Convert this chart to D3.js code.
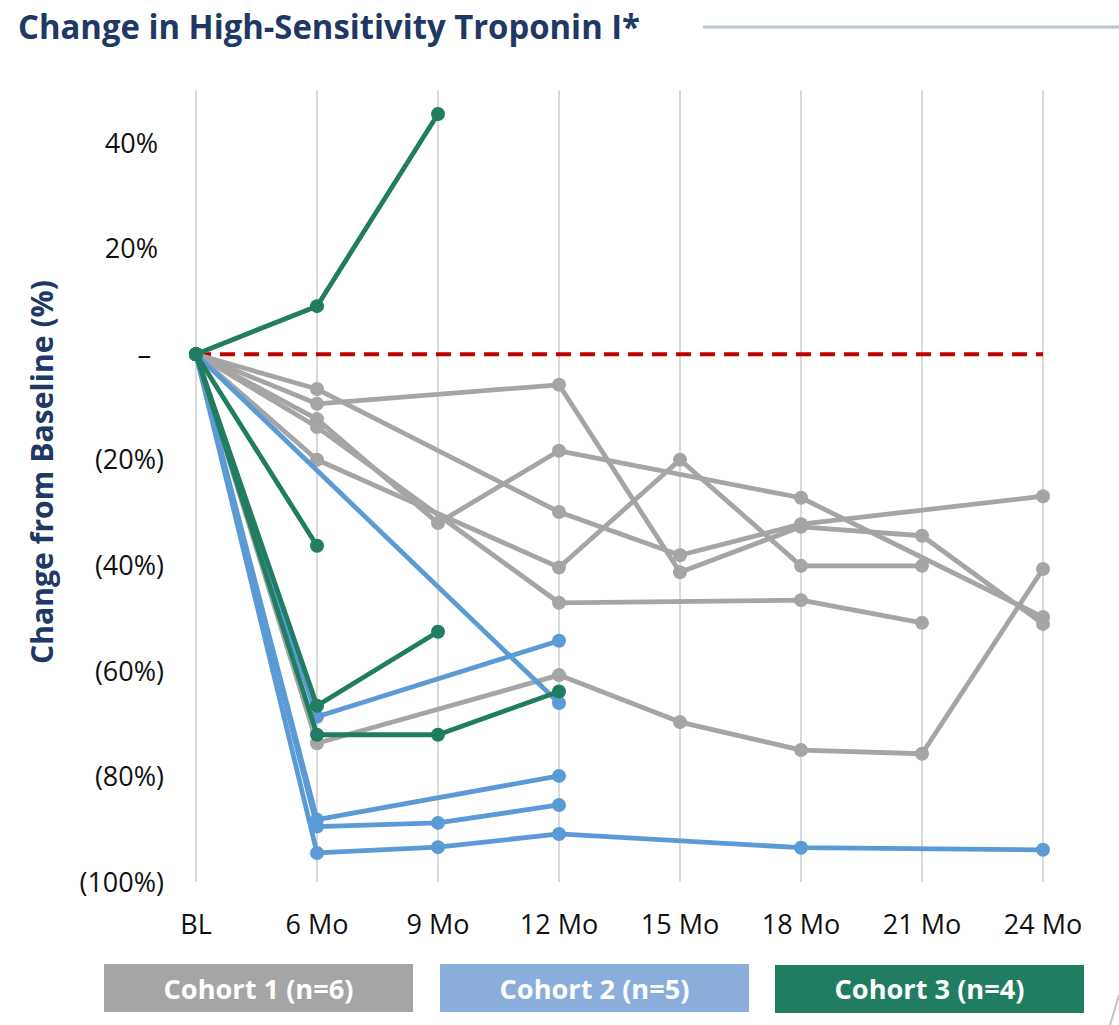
<!DOCTYPE html>
<html><head><meta charset="utf-8">
<script src="https://cdn.jsdelivr.net/npm/d3@7"></script>
<style>
html,body{margin:0;padding:0;background:#fff;}
svg{display:block;font-family:"Open Sans",sans-serif;}
</style></head>
<body><svg id="c" width="1119" height="1025"></svg>
<script>
const months = ["BL","6 Mo","9 Mo","12 Mo","15 Mo","18 Mo","21 Mo","24 Mo"];
const yTicks = [40,20,0,-20,-40,-60,-80,-100];
const yTickLabels = ["40%","20%","–","(20%)","(40%)","(60%)","(80%)","(100%)"];
// values per patient, aligned to months (null = no measurement)
const cohort1 = [
  [0,-9.4,null,-5.8,-41.3,-32.7,-34.4,-51.1],
  [0,-6.6,null,-29.9,-38.1,-32.2,null,-26.9],
  [0,-12.3,-32.0,-18.3,null,-27.2,null,-49.8],
  [0,-20.0,null,-40.4,-20.0,-40.1,-40.1,null],
  [0,-13.8,null,-47.1,null,-46.6,-50.9,null],
  [0,-73.7,null,-60.8,-69.7,-75.0,-75.7,-40.7]
];
const cohort2 = [
  [0,-68.7,null,-54.3,null,null,null,null],
  [0,null,null,-66.1,null,null,null,null],
  [0,-88.2,null,-79.9,null,null,null,null],
  [0,-89.5,-88.8,-85.4,null,null,null,null],
  [0,-94.5,-93.4,-90.9,null,-93.5,null,-93.9]
];
const cohort3 = [
  [0,9.1,45.5,null,null,null,null,null],
  [0,-36.3,null,null,null,null,null,null],
  [0,-66.6,-52.6,null,null,null,null,null],
  [0,-72.1,-72.1,-63.9,null,null,null,null]
];
const legendLabels = ["Cohort 1 (n=6)","Cohort 2 (n=5)","Cohort 3 (n=4)"];

const svg = d3.select("#c");
const x = d3.scalePoint().domain(months).range([196,1043]);
const y = d3.scaleLinear().domain([-100,50]).range([882,90.3]);

// title
svg.append("text").attr("x",18).attr("y",39)
  .attr("font-size",34).attr("font-weight",700).attr("fill","#203864")
  .attr("textLength",622).attr("lengthAdjust","spacingAndGlyphs")
  .text("Change in High-Sensitivity Troponin I*");
svg.append("line").attr("x1",703).attr("x2",1119).attr("y1",27).attr("y2",27)
  .attr("stroke","#B8C5CD").attr("stroke-width",3);
// small decorative line bottom right
svg.append("line").attr("x1",1119).attr("y1",995).attr("x2",1110).attr("y2",1025)
  .attr("stroke","#B8C5CD").attr("stroke-width",2);

// vertical gridlines
svg.append("g").selectAll("line").data(months).join("line")
  .attr("x1",d=>x(d)).attr("x2",d=>x(d)).attr("y1",y(50)).attr("y2",y(-100))
  .attr("stroke","#D9D9D9").attr("stroke-width",2);

// y tick labels
svg.append("g").selectAll("text").data(yTicks).join("text")
  .attr("x",d=>d>=0 ? (d===0?151:158) : 164)
  .attr("y",d=>y(d)).attr("dy","0.36em")
  .attr("text-anchor","end").attr("font-size",27).attr("fill","#111")
  .text((d,i)=>yTickLabels[i]);

// x tick labels
svg.append("g").selectAll("text").data(months).join("text")
  .attr("x",d=>x(d)).attr("y",934).attr("text-anchor","middle")
  .attr("font-size",27).attr("fill","#111").text(d=>d);

// y axis title
svg.append("text").attr("transform","translate(53,472) rotate(-90)")
  .attr("text-anchor","middle").attr("font-size",31).attr("font-weight",700)
  .attr("fill","#203864").attr("textLength",384).attr("lengthAdjust","spacingAndGlyphs")
  .text("Change from Baseline (%)");

// zero reference line
svg.append("line").attr("x1",x("BL")).attr("x2",x("24 Mo")).attr("y1",y(0)).attr("y2",y(0))
  .attr("stroke","#C00000").attr("stroke-width",4).attr("stroke-dasharray","15,9");

const line = d3.line().x(d=>x(d.m)).y(d=>y(d.v));
function drawCohort(data,color){
  const g = svg.append("g");
  data.forEach(row=>{
    const pts = row.map((v,i)=>({m:months[i],v})).filter(d=>d.v!==null);
    g.append("path").datum(pts).attr("d",line).attr("fill","none")
      .attr("stroke",color).attr("stroke-width",4.8).attr("stroke-linejoin","round");
    g.selectAll(null).data(pts).join("circle")
      .attr("cx",d=>x(d.m)).attr("cy",d=>y(d.v)).attr("r",7).attr("fill",color);
  });
}
drawCohort(cohort1,"#A5A5A5");
drawCohort(cohort2,"#5B9BD5");
drawCohort(cohort3,"#207D62");

// legend
const legendColors = ["#A5A5A5","#8AAEDC","#207D62"];
const legendX = [104,440,775];
const lg = svg.append("g").selectAll("g").data(legendLabels).join("g");
lg.append("rect").attr("x",(d,i)=>legendX[i]).attr("y",(d,i)=>i===2?965:964)
  .attr("width",309).attr("height",48).attr("fill",(d,i)=>legendColors[i]);
lg.append("text").attr("x",(d,i)=>legendX[i]+154.5).attr("y",989).attr("dy","0.36em")
  .attr("text-anchor","middle").attr("font-size",27).attr("font-weight",700)
  .attr("fill","#fff").attr("textLength",190).attr("lengthAdjust","spacingAndGlyphs").text(d=>d);
</script></body></html>
